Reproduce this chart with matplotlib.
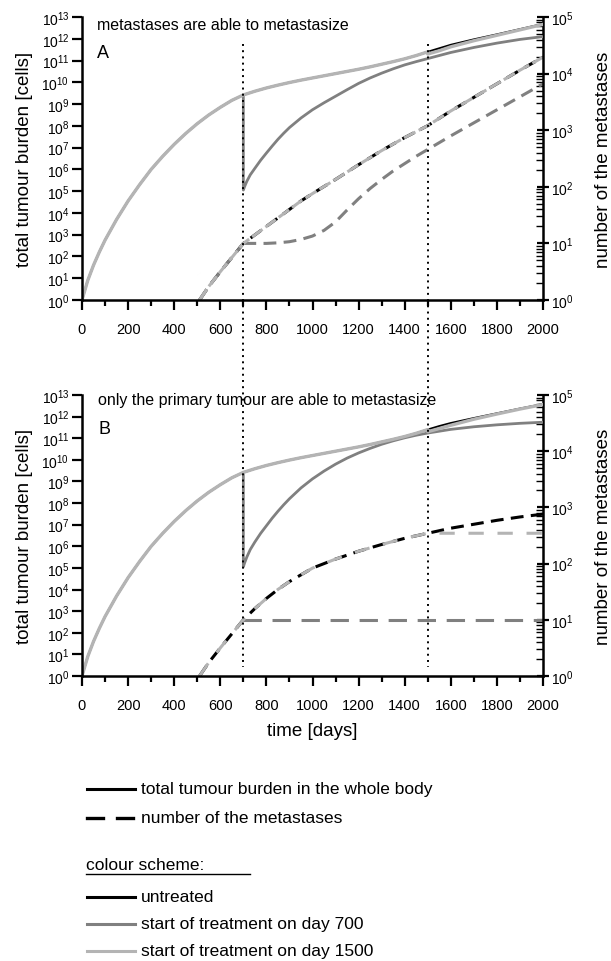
import numpy as np
import matplotlib
matplotlib.use("Agg")
import matplotlib.pyplot as plt
from matplotlib.lines import Line2D
from matplotlib.ticker import FixedLocator, MultipleLocator, LogLocator, NullFormatter, NullLocator

plt.rcParams.update({
    "font.family": ["Liberation Sans", "DejaVu Sans"],
    "mathtext.fontset": "custom",
    "mathtext.rm": "Liberation Sans",
    "mathtext.it": "Liberation Sans:italic",
    "mathtext.bf": "Liberation Sans:bold",
})

# ---------------- data (log10 values) ----------------
# total tumour burden before day 700 (identical for all scenarios)
days_pre = [0, 25, 50, 75, 100, 150, 200, 250, 300, 350, 400, 450, 500, 550, 600, 650, 700]
burden_pre = [0, 0.9, 1.6, 2.2, 2.75, 3.7, 4.55, 5.3, 6.0, 6.6, 7.15, 7.65, 8.1, 8.5, 8.85, 9.17, 9.42]

# untreated, day 700 -> 2000
days_post = [750, 800, 850, 900, 950, 1000, 1050, 1100, 1150, 1200, 1250, 1300, 1350, 1400, 1450, 1500,
             1550, 1600, 1700, 1800, 1900, 2000]
burden_untreated_A = [9.59, 9.74, 9.87, 9.99, 10.1, 10.2, 10.3, 10.4, 10.5, 10.6, 10.71, 10.83, 10.95, 11.08,
                      11.23, 11.4, 11.56, 11.72, 11.97, 12.2, 12.44, 12.68]
burden_untreated_B = [9.59, 9.74, 9.87, 9.99, 10.1, 10.2, 10.3, 10.4, 10.5, 10.6, 10.71, 10.83, 10.95, 11.08,
                      11.23, 11.4, 11.56, 11.7, 11.93, 12.15, 12.37, 12.58]

# treatment on day 1500 (after the start of treatment)
days_t1500 = [1500, 1550, 1600, 1700, 1800, 1900, 2000]
burden_t1500_A = [11.3, 11.45, 11.63, 11.91, 12.16, 12.41, 12.66]
burden_t1500_B = [11.3, 11.45, 11.6, 11.88, 12.12, 12.35, 12.56]

# treatment on day 700
days_t700 = [700, 700, 705, 715, 730, 750, 775, 800, 825, 850, 875, 900, 950, 1000, 1050, 1100, 1150, 1200,
             1250, 1300, 1350, 1400, 1450, 1500, 1600, 1700, 1800, 1900, 2000]
burden_t700_A = [9.42, 5.05, 5.2, 5.45, 5.75, 6.05, 6.42, 6.75, 7.07, 7.38, 7.66, 7.92, 8.36, 8.74, 9.06, 9.36,
                 9.66, 9.95, 10.2, 10.42, 10.62, 10.8, 10.95, 11.09, 11.37, 11.6, 11.8, 11.97, 12.1]
burden_t700_B = [9.42, 5.05, 5.22, 5.5, 5.85, 6.2, 6.6, 6.95, 7.3, 7.62, 7.92, 8.2, 8.7, 9.12, 9.48, 9.8,
                 10.08, 10.32, 10.53, 10.72, 10.88, 11.02, 11.14, 11.24, 11.41, 11.53, 11.62, 11.69, 11.74]

# number of metastases (log10)
days_met_pre = [510, 550, 600, 650, 700]
met_pre = [0, 0.24, 0.5, 0.75, 1.0]

days_met = [700, 750, 800, 850, 900, 950, 1000, 1100, 1200, 1300, 1400, 1500, 1600, 1700, 1800, 1900, 2000]
met_untreated_A = [1.0, 1.15, 1.3, 1.45, 1.6, 1.75, 1.88, 2.13, 2.39, 2.64, 2.87, 3.08, 3.34, 3.58, 3.82, 4.06, 4.29]
met_untreated_B = [1.0, 1.2, 1.38, 1.54, 1.68, 1.8, 1.92, 2.08, 2.22, 2.34, 2.45, 2.54, 2.63, 2.7, 2.77, 2.83, 2.88]

days_met700_A = [700, 750, 800, 850, 900, 950, 1000, 1050, 1100, 1150, 1200, 1250, 1300, 1350, 1400, 1450, 1500,
                 1600, 1700, 1800, 1900, 2000]
met_t700_A = [1.0, 1.0, 1.0, 1.01, 1.03, 1.07, 1.13, 1.23, 1.38, 1.59, 1.79, 1.97, 2.13, 2.28, 2.41, 2.54, 2.66,
              2.9, 3.13, 3.36, 3.59, 3.82]
days_met700_B = [700, 2000]
met_t700_B = [1.0, 1.0]
days_met1500_B = [1500, 2000]
met_t1500_B = [2.54, 2.54]

treatment_days = [700, 1500]
titles = ["metastases are able to metastasize", "only the primary tumour are able to metastasize"]
letters = ["A", "B"]

C_BLACK = "#000000"
C_DARK = "#808080"
C_LIGHT = "#b4b4b4"

W, H = 611, 962
fig = plt.figure(figsize=(W / 100, H / 100), dpi=100)


def rect(l, t, r, b):
    return [l / W, 1 - b / H, (r - l) / W, (b - t) / H]


axA = fig.add_axes(rect(82, 18, 543, 301))
axB = fig.add_axes(rect(82, 396, 543, 677))

p = lambda v: np.power(10.0, np.asarray(v, dtype=float))


def style(ax):
    ax.set_xlim(0, 2000)
    ax.set_yscale("log")
    ax.set_ylim(1, 1e13)
    ax.yaxis.set_major_locator(FixedLocator(10.0 ** np.arange(14)))
    ax.yaxis.set_minor_locator(NullLocator())
    ax.xaxis.set_major_locator(MultipleLocator(200))
    ax.xaxis.set_minor_locator(MultipleLocator(100))
    for s in ["top", "right"]:
        ax.spines[s].set_visible(False)
    for s in ["left", "bottom"]:
        ax.spines[s].set_linewidth(1.8)
    ax.tick_params(axis="y", which="major", direction="out", length=7, width=1.6, pad=2, labelsize=10)
    ax.tick_params(axis="x", which="major", direction="out", length=7, width=1.6, pad=9, labelsize=10.5)
    ax.tick_params(axis="x", which="minor", direction="out", length=4.5, width=1.6)
    ax.set_ylabel("total tumour burden [cells]", fontsize=13.5)
    ax.yaxis.label.set_verticalalignment("center")
    ax.yaxis.set_label_coords((25 - 82) / 461, 0.5)
    ax.patch.set_alpha(0)

    axr = ax.twinx()
    axr.set_yscale("log")
    axr.set_ylim(1, 1e5)
    axr.yaxis.set_major_locator(FixedLocator(10.0 ** np.arange(6)))
    axr.yaxis.set_minor_locator(LogLocator(base=10, subs=np.arange(2, 10), numticks=30))
    axr.yaxis.set_minor_formatter(NullFormatter())
    for s in ["top", "left", "bottom"]:
        axr.spines[s].set_visible(False)
    axr.spines["right"].set_linewidth(1.8)
    axr.tick_params(which="major", direction="inout", length=9, width=1.6, pad=1, labelsize=10)
    axr.tick_params(which="minor", direction="in", length=5, width=1.0)
    axr.set_ylabel("number of the metastases", fontsize=13.5)
    axr.yaxis.label.set_verticalalignment("center")
    axr.yaxis.set_label_coords((603 - 82) / 461, 0.5)
    return axr


axrA = style(axA)
axrB = style(axB)
axA.set_zorder(axrA.get_zorder() + 1)
axB.set_zorder(axrB.get_zorder() + 1)

axB.set_xlabel("time [days]", fontsize=13.5)
axB.xaxis.label.set_verticalalignment("center")
axB.xaxis.set_label_coords(0.5, (677 - 732) / 281)

LW_K, LW_D, LW_L = 1.5, 2.0, 2.4
DASH = (4.2, 2.4)
LW_DASH = 2.2

for ax, axr, un, t15, t7, metun, panel in [
    (axA, axrA, burden_untreated_A, burden_t1500_A, burden_t700_A, met_untreated_A, "A"),
    (axB, axrB, burden_untreated_B, burden_t1500_B, burden_t700_B, met_untreated_B, "B"),
]:
    # metastases (right axis)
    axr.plot(days_met_pre + days_met[1:], p(met_pre + metun[1:]), color=C_BLACK, lw=LW_DASH,
             dashes=DASH, dash_capstyle="butt")
    if panel == "A":
        axr.plot(days_met700_A, p(met_t700_A), color=C_DARK, lw=LW_DASH, dashes=DASH)
        axr.plot(days_met_pre, p(met_pre), color=C_DARK, lw=LW_DASH, dashes=DASH)
        axr.plot(days_met_pre + days_met[1:], p(met_pre + metun[1:]), color=C_LIGHT, lw=LW_DASH,
                 dashes=(4.2, 1.2))
    else:
        axr.plot(days_met700_B, p(met_t700_B), color=C_DARK, lw=LW_DASH, dashes=(6, 3.5))
        d15 = days_met_pre + [d for d in days_met[1:] if d <= 1500]
        m15 = met_pre + [m for d, m in zip(days_met[1:], metun[1:]) if d <= 1500]
        axr.plot(d15 + days_met1500_B[1:], p(m15 + met_t1500_B[1:]), color=C_LIGHT, lw=LW_DASH,
                 dashes=(5, 4.5))

    # total burden (left axis)
    d_un = days_pre + days_post
    ax.plot(d_un, p(burden_pre + un), color=C_BLACK, lw=LW_K, solid_capstyle="butt")
    ax.plot(days_t700, p(t7), color=C_DARK, lw=LW_D, solid_joinstyle="round")
    d_l = days_pre + [d for d in days_post if d <= 1500] + days_t1500
    b_l = burden_pre + [b for d, b in zip(days_post, un) if d <= 1500] + t15
    ax.plot(d_l, p(b_l), color=C_LIGHT, lw=LW_L, solid_joinstyle="round")

# titles / letters
fig.text(97 / W, 1 - 25 / H, titles[0], fontsize=11.5, va="center", ha="left")
fig.text(97 / W, 1 - 53 / H, letters[0], fontsize=13, va="center", ha="left")
fig.text(98 / W, 1 - 401 / H, titles[1], fontsize=11.5, va="center", ha="left")
fig.text(98 / W, 1 - 430 / H, letters[1], fontsize=13, va="center", ha="left")

# dotted vertical lines spanning both panels
fig.canvas.draw()
inv = fig.transFigure.inverted()
for d in treatment_days:
    xd = axA.transData.transform((d, 1.0))[0]
    xf = inv.transform((xd, 0))[0]
    fig.add_artist(Line2D([xf, xf], [1 - 45 / H, 1 - 668 / H], transform=fig.transFigure,
                          color="k", lw=1.4, linestyle=(0, (1, 2.2))))

# legend block
legend_x0, legend_x1, text_x = 87 / W, 135 / W, 141 / W
rows = [
    (790, "-", C_BLACK, "total tumour burden in the whole body"),
    (819, "--", C_BLACK, "number of the metastases"),
    (898, "-", C_BLACK, "untreated"),
    (925, "-", C_DARK, "start of treatment on day 700"),
    (952, "-", C_LIGHT, "start of treatment on day 1500"),
]
for y, ls, c, label in rows:
    yf = 1 - y / H
    if ls == "--":
        fig.add_artist(Line2D([legend_x0, legend_x0 + 16 / W], [yf, yf], transform=fig.transFigure, color=c, lw=2.4))
        fig.add_artist(Line2D([legend_x0 + 30 / W, legend_x1 - 2 / W], [yf, yf], transform=fig.transFigure, color=c, lw=2.4))
    else:
        fig.add_artist(Line2D([legend_x0, legend_x1], [yf, yf], transform=fig.transFigure, color=c, lw=2.2))
    fig.text(text_x, yf, label, fontsize=12.5, va="center", ha="left")

fig.text(86 / W, 1 - 866 / H, "colour scheme:", fontsize=12.5, va="center", ha="left")
fig.add_artist(Line2D([86 / W, 250 / W], [1 - 875 / H] * 2, transform=fig.transFigure, color="k", lw=1.0))

fig.savefig("out.png", dpi=100)
